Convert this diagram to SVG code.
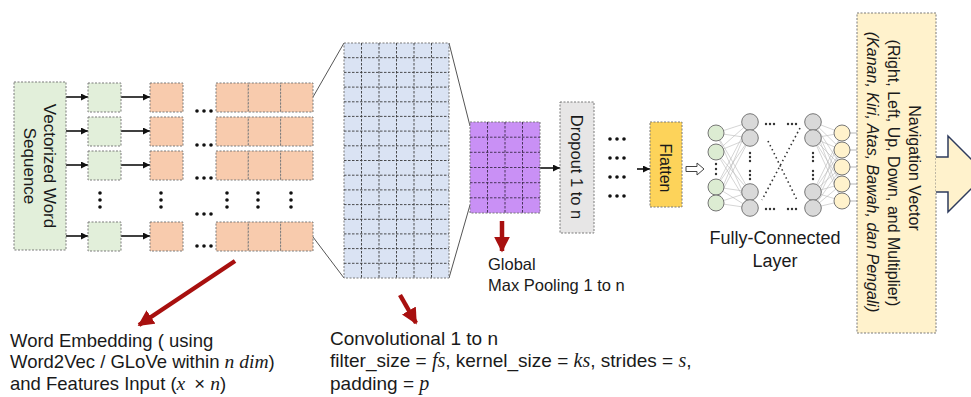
<svg xmlns="http://www.w3.org/2000/svg" width="971" height="397" viewBox="0 0 971 397">
<style>
.t{font-family:'Liberation Sans',Arial,sans-serif;fill:#1a1a1a}
.m{font-family:'Liberation Serif','Times New Roman',serif;font-style:italic}
.bd{stroke:#7a7a7a;stroke-width:1;stroke-dasharray:2 1.5}
.gr{fill:#e2efda}
.or{fill:#f8cbad}
.ar{stroke:#111;stroke-width:1.6;fill:none;marker-end:url(#ah)}
.red{stroke:#a8100f;stroke-width:4.5;fill:none;marker-end:url(#rh)}
.dot{fill:#111}
.nn{stroke:#b8b8b8;stroke-width:0.6}
.nd{stroke:#777;stroke-width:1}
</style>
<defs>
<marker id="ah" viewBox="0 0 10 10" refX="10" refY="5" markerWidth="8" markerHeight="7" markerUnits="userSpaceOnUse" orient="auto"><path d="M0,0 L10,5 L0,10 z" fill="#111"/></marker>
<marker id="rh" viewBox="0 0 10 10" refX="9" refY="5" markerWidth="16" markerHeight="16" markerUnits="userSpaceOnUse" orient="auto"><path d="M0,0 L10,5 L0,10 z" fill="#a8100f"/></marker>
<g id="hd"><circle r="1.8" cx="0"/><circle r="1.8" cx="7"/><circle r="1.8" cx="14"/></g>
<g id="vd"><circle r="1.8" cy="0"/><circle r="1.8" cy="7"/><circle r="1.8" cy="14"/></g>
<g id="orow"><rect x="216" y="0" width="32.3" height="29" class="or bd"/><rect x="248.3" y="0" width="32.3" height="29" class="or bd"/><rect x="280.6" y="0" width="32.4" height="29" class="or bd"/></g>
</defs>
<rect width="971" height="397" fill="#fff"/>

<g id="connectors">
<line x1="66" y1="97" x2="88" y2="97" class="ar"/>
<line x1="66" y1="131" x2="88" y2="131" class="ar"/>
<line x1="66" y1="165" x2="88" y2="165" class="ar"/>
<line x1="66" y1="236" x2="88" y2="236" class="ar"/>
<line x1="121" y1="97" x2="150" y2="97" class="ar"/>
<line x1="121" y1="131" x2="150" y2="131" class="ar"/>
<line x1="121" y1="165" x2="150" y2="165" class="ar"/>
<line x1="121" y1="236" x2="150" y2="236" class="ar"/>
<line x1="313" y1="97" x2="344" y2="43" stroke="#555" stroke-width="1"/>
<line x1="313" y1="237" x2="344" y2="278" stroke="#555" stroke-width="1"/>
<line x1="449" y1="43" x2="470" y2="126" stroke="#555" stroke-width="1"/>
<line x1="449" y1="278" x2="470" y2="205" stroke="#555" stroke-width="1"/>
<line x1="540" y1="168" x2="560" y2="168" class="ar"/>
<line x1="637" y1="169" x2="650" y2="169" class="ar"/>
<path d="M686,166.5 H697 V163 L704,169 L697,175 V171.5 H686 Z" fill="#fff" stroke="#444" stroke-width="1"/>
<line x1="235" y1="261" x2="139" y2="325" class="red"/>
<line x1="400" y1="295" x2="416" y2="323" class="red"/>
<line x1="502" y1="221" x2="502" y2="251" class="red"/>
</g>

<g id="input-seq">
<rect x="14" y="82" width="52" height="168" class="gr bd"/>
<text class="t" font-size="17" text-anchor="middle" transform="translate(44,166) rotate(90)">Vectorized Word</text>
<text class="t" font-size="17" text-anchor="middle" transform="translate(24,166) rotate(90)">Sequence</text>
</g>

<g id="embedding">
<rect x="88" y="83" width="33" height="29" class="gr bd"/>
<rect x="88" y="117" width="33" height="29" class="gr bd"/>
<rect x="88" y="151" width="33" height="29" class="gr bd"/>
<rect x="88" y="222" width="33" height="29" class="gr bd"/>
<rect x="150" y="83" width="33" height="29" class="or bd"/>
<rect x="150" y="117" width="33" height="29" class="or bd"/>
<rect x="150" y="151" width="33" height="29" class="or bd"/>
<rect x="150" y="222" width="33" height="29" class="or bd"/>
<use href="#orow" y="83"/>
<use href="#orow" y="117"/>
<use href="#orow" y="151"/>
<use href="#orow" y="222"/>
<g class="dot">
<use href="#hd" x="197" y="111"/>
<use href="#hd" x="197" y="145"/>
<use href="#hd" x="197" y="178"/>
<use href="#hd" x="197" y="214"/>
<use href="#hd" x="197" y="246"/>
<use href="#vd" x="100" y="193"/>
<use href="#vd" x="161" y="193"/>
<use href="#vd" x="227" y="193"/>
<use href="#vd" x="258" y="193"/>
<use href="#vd" x="291" y="193"/>
</g>
</g>

<g id="conv">
<rect x="344" y="43" width="105" height="235" fill="#dae3f3" class="bd"/>
<path d="M361.5,43V278M379,43V278M396.5,43V278M414,43V278M431.5,43V278M344,57.7H449M344,72.4H449M344,87.1H449M344,101.8H449M344,116.4H449M344,131.1H449M344,145.8H449M344,160.5H449M344,175.2H449M344,189.9H449M344,204.6H449M344,219.3H449M344,233.9H449M344,248.6H449M344,263.3H449" stroke="#3a3a3a" stroke-width="0.9" stroke-dasharray="2.5 1.5" fill="none"/>
</g>

<g id="pool">
<rect x="470" y="122" width="70" height="91" fill="#c990f5" class="bd"/>
<path d="M487.5,122V213M505,122V213M522.5,122V213M470,137.2H540M470,152.3H540M470,167.5H540M470,182.7H540M470,197.8H540" stroke="#3a2a4a" stroke-width="0.9" stroke-dasharray="2.5 1.5" fill="none"/>
<text class="t" font-size="16.5" x="488" y="270">Global</text>
<text class="t" font-size="16.5" x="488" y="291">Max Pooling 1 to n</text>
</g>

<g id="dropout">
<rect x="560" y="102" width="34" height="131" fill="#e7e6e6" class="bd"/>
<text class="t" font-size="16.5" text-anchor="middle" transform="translate(571,167) rotate(90)">Dropout 1 to n</text>
<g class="dot">
<use href="#hd" x="610" y="139"/>
<use href="#hd" x="610" y="158"/>
<use href="#hd" x="610" y="177"/>
<use href="#hd" x="610" y="196"/>
</g>
</g>

<g id="flatten">
<rect x="650" y="122" width="32" height="85" fill="#fdd35a" class="bd"/>
<text class="t" font-size="16" text-anchor="middle" transform="translate(660,168) rotate(90)">Flatten</text>
</g>

<g id="fc-layer">
<g class="nn">
<path d="M716,133L750,122M716,133L750,138M716,133L750,192M716,133L750,208M716,152L750,122M716,152L750,138M716,152L750,192M716,152L750,208M716,187L750,122M716,187L750,138M716,187L750,192M716,187L750,208M716,203L750,122M716,203L750,138M716,203L750,192M716,203L750,208"/>
<path d="M813,122L842,133M813,122L842,150M813,122L842,167M813,122L842,184M813,122L842,201M813,138L842,133M813,138L842,150M813,138L842,167M813,138L842,184M813,138L842,201M813,192L842,133M813,192L842,150M813,192L842,167M813,192L842,184M813,192L842,201M813,208L842,133M813,208L842,150M813,208L842,167M813,208L842,184M813,208L842,201"/>
<path d="M850,133H857M850,150H857M850,167H857M850,184H857M850,201H857" stroke="#888"/>
</g>
<g class="nd" fill="#dcecd2">
<circle cx="716" cy="133" r="8"/><circle cx="716" cy="152" r="8"/><circle cx="716" cy="187" r="8"/><circle cx="716" cy="203" r="8"/>
</g>
<g class="nd" fill="#d9d9d9">
<circle cx="750" cy="122" r="8.3"/><circle cx="750" cy="138" r="8.3"/><circle cx="750" cy="192" r="8.3"/><circle cx="750" cy="208" r="8.3"/>
<circle cx="813" cy="122" r="8.3"/><circle cx="813" cy="138" r="8.3"/><circle cx="813" cy="192" r="8.3"/><circle cx="813" cy="208" r="8.3"/>
</g>
<g class="nd" fill="#fff2cc">
<circle cx="842" cy="133" r="8"/><circle cx="842" cy="150" r="8"/><circle cx="842" cy="167" r="8"/><circle cx="842" cy="184" r="8"/><circle cx="842" cy="201" r="8"/>
</g>
<g fill="#333">
<circle cx="716" cy="164" r="1.2"/><circle cx="716" cy="169" r="1.2"/><circle cx="716" cy="174" r="1.2"/>
<circle cx="750" cy="153" r="1.2"/><circle cx="750" cy="157" r="1.2"/><circle cx="750" cy="161" r="1.2"/>
<circle cx="750" cy="171" r="1.2"/><circle cx="750" cy="175" r="1.2"/><circle cx="750" cy="179" r="1.2"/>
<circle cx="813" cy="153" r="1.2"/><circle cx="813" cy="157" r="1.2"/><circle cx="813" cy="161" r="1.2"/>
<circle cx="813" cy="171" r="1.2"/><circle cx="813" cy="175" r="1.2"/><circle cx="813" cy="179" r="1.2"/>
<circle cx="766" cy="124" r="1.2"/><circle cx="770" cy="124" r="1.2"/><circle cx="774" cy="124" r="1.2"/>
<circle cx="788" cy="124" r="1.2"/><circle cx="792" cy="124" r="1.2"/><circle cx="796" cy="124" r="1.2"/>
<circle cx="766" cy="209" r="1.2"/><circle cx="770" cy="209" r="1.2"/><circle cx="774" cy="209" r="1.2"/>
<circle cx="788" cy="209" r="1.2"/><circle cx="792" cy="209" r="1.2"/><circle cx="796" cy="209" r="1.2"/>
</g>
<path d="M768,141L797,200M800,128L762,200" stroke="#333" stroke-width="1.6" stroke-dasharray="1.5 3" fill="none"/>
<text class="t" font-size="18" text-anchor="middle" x="775" y="244">Fully-Connected</text>
<text class="t" font-size="18" text-anchor="middle" x="775" y="267">Layer</text>
</g>

<g id="nav-vector">
<rect x="857" y="13" width="79" height="320" fill="#fff2cc" class="bd"/>
<text class="t" font-size="16" text-anchor="middle" transform="translate(909,168) rotate(90)">Navigation Vector</text>
<text class="t" font-size="16" text-anchor="middle" transform="translate(888,173) rotate(90)">(Right, Left, Up, Down, and Multiplier)</text>
<text class="t" font-size="16" font-style="italic" text-anchor="middle" transform="translate(867,172) rotate(90)">(Kanan, Kiri, Atas, Bawah, dan Pengali)</text>
</g>

<g id="output-arrow">
<path d="M936,157 H948 V136 L986,174 L948,212 V192 H936" fill="#fff2cc" stroke="#2e3b5c" stroke-width="1.5"/>
</g>

<g id="label-embedding">
<text class="t" font-size="18.5" x="10" y="347">Word Embedding ( using</text>
<text class="t" font-size="18.5" x="10" y="368">Word2Vec / GLoVe within <tspan class="m" font-size="19.5">n dim</tspan>)</text>
<text class="t" font-size="18.5" x="10" y="390">and Features Input (<tspan class="m" font-size="19.5">x</tspan><tspan dx="9">×</tspan> <tspan class="m" font-size="19.5">n</tspan>)</text>
</g>

<g id="label-conv">
<text class="t" font-size="19" x="330" y="345">Convolutional 1 to n</text>
<text class="t" font-size="19" x="330" y="367">filter_size = <tspan class="m" font-size="20">fs</tspan>, kernel_size = <tspan class="m" font-size="20">ks</tspan>, strides = <tspan class="m" font-size="20">s</tspan>,</text>
<text class="t" font-size="19" x="330" y="390">padding = <tspan class="m" font-size="20">p</tspan></text>
</g>
</svg>
